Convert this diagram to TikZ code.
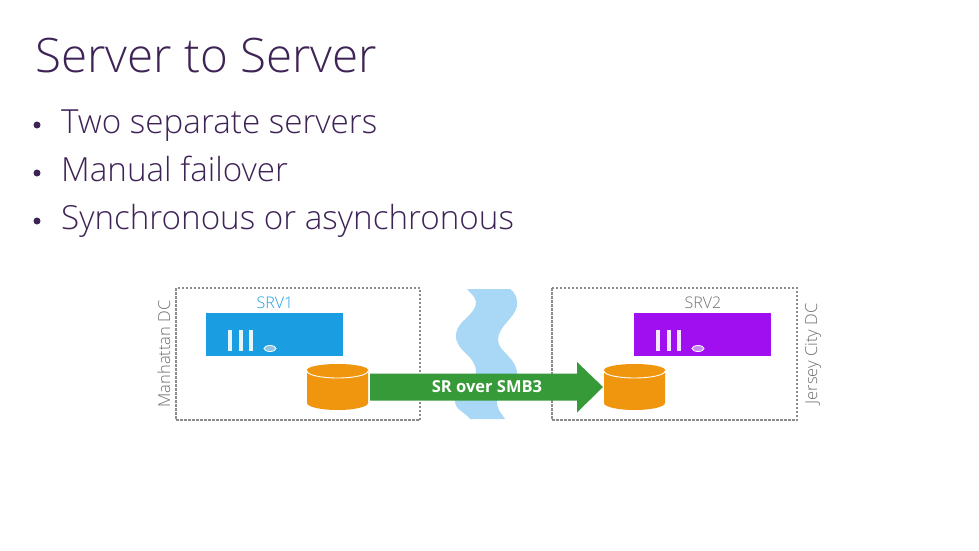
\documentclass[tikz,border=0pt]{standalone}
\usepackage{fontspec}
\setmainfont{Open Sans Light}
\newfontfamily\regfont{Open Sans}
\usetikzlibrary{shapes.geometric}
\definecolor{ink}{HTML}{3E2456}
\definecolor{lblgray}{HTML}{6E6E6E}
\definecolor{srvblue}{HTML}{1B9DE2}
\definecolor{srvpurple}{HTML}{A00FF0}
\definecolor{disk}{HTML}{F0960E}
\definecolor{wave}{HTML}{A8D8F5}
\definecolor{arrowgreen}{HTML}{359A37}
\definecolor{ledone}{HTML}{8FC4E4}
\definecolor{ledtwo}{HTML}{C88AEE}
\tikzset{
  x=1pt,y=-1pt,
  titletext/.style={inner sep=0,anchor=base west,text=ink,font=\fontsize{47.5}{47}\selectfont},
  bullettext/.style={inner sep=0,anchor=base west,text=ink,font=\fontsize{33.2}{33}\selectfont},
  bulletdot/.style={circle,fill=ink,inner sep=0,minimum size=7pt},
  dcbox/.style={draw=black!45,dash pattern=on 2.5pt off 1.5pt,line width=1.2pt,fill=none},
  srvbox/.style={inner sep=0,minimum width=137pt,minimum height=43pt},
  srvname/.style={inner sep=0,font=\fontsize{16}{16}\selectfont},
  dcname/.style={inner sep=0,text=lblgray,rotate=90,font=\fontsize{16.5}{17}\selectfont},
  led/.style={ellipse,inner sep=0,minimum width=12pt,minimum height=6pt,draw=white,line width=.8pt},
  slot/.style={draw=none}
}
\newcommand{\drive}[1]{%
  \fill[disk] (#1+0,370) arc[start angle=180,end angle=360,x radius=30.5,y radius=6]
    -- (#1+61,403) arc[start angle=0,end angle=180,x radius=30.5,y radius=7] -- cycle;
  \draw[white,line width=.9pt] (#1+0,371) arc[start angle=180,end angle=0,x radius=30.5,y radius=7];
}
\begin{document}
\begin{tikzpicture}
\useasboundingbox (0,0) rectangle (979,551);
\fill[white] (0,0) rectangle (979,551);
\node[titletext] (title) at (35,73) {Server to Server};
\node[bulletdot] (b1) at (37,125) {};
\node[bulletdot] (b2) at (37,173) {};
\node[bulletdot] (b3) at (37,221) {};
\node[bullettext] (t1) at (61,133) {Two separate servers};
\node[bullettext] (t2) at (61,181) {Manual failover};
\node[bullettext] (t3) at (61,229) {Synchronous or asynchronous};
% water
\fill[wave] (467,289) -- (510,289)
  .. controls (515,292) and (518,299) .. (517,306)
  .. controls (515,318) and (498,326) .. (498,340)
  .. controls (498,352) and (518,358) .. (517,375)
  .. controls (516,388) and (497,390) .. (497,402)
  .. controls (497,410) and (502,414) .. (505,419)
  -- (470,419)
  .. controls (465,412) and (455,410) .. (455,401)
  .. controls (455,390) and (476,385) .. (476,372)
  .. controls (476,355) and (456,352) .. (456,336)
  .. controls (456,320) and (476,316) .. (476,302)
  .. controls (476,297) and (470,293) .. (467,289) -- cycle;
\draw[dcbox] (176,288) rectangle (420,420);
\draw[dcbox] (552,288) rectangle (797,420);
\node[srvbox,fill=srvblue] (srv1) at (274.5,334.5) {};
\node[srvbox,fill=srvpurple] (srv2) at (702.5,334.5) {};
\foreach \bx in {228,238.5,249}{\fill[slot,fill=white!90!srvblue] (\bx,330) rectangle (\bx+4,351);}
\foreach \bx in {656,666.5,677}{\fill[slot,fill=white!90!srvpurple] (\bx,330) rectangle (\bx+4,351);}
\node[led,fill=ledone] (led1) at (270,348.5) {};
\node[led,fill=ledtwo] (led2) at (698,348.5) {};
\node[srvname,text=srvblue] (n1) at (275,302.5) {SRV1};
\node[srvname,text=lblgray] (n2) at (703,302.5) {SRV2};
\node[dcname] (dc1) at (164,354) {Manhattan DC};
\node[dcname] (dc2) at (813,354) {Jersey City DC};
\drive{307}
\drive{604}
\fill[arrowgreen] (370,373.5) -- (577,373.5) -- (577,362) -- (603,387) -- (577,412.5) -- (577,400.5) -- (370,400.5) -- cycle;
\node[inner sep=0,text=white,font=\regfont\bfseries\fontsize{16.5}{16}\selectfont] (sr) at (487,386.5) {SR over SMB3};
\end{tikzpicture}
\end{document}
